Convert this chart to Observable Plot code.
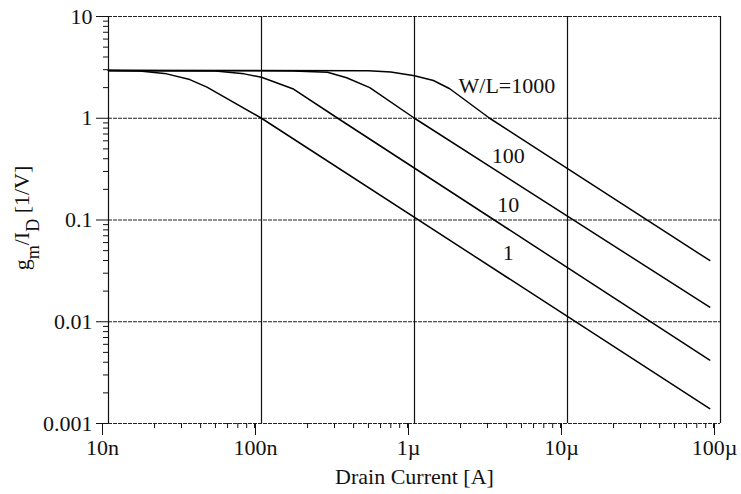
<!DOCTYPE html>
<html>
<head>
<meta charset="utf-8">
<script src="https://cdn.jsdelivr.net/npm/d3@7"></script>
<script src="https://cdn.jsdelivr.net/npm/@observablehq/plot@0.6"></script>
<style>
  html, body { margin: 0; padding: 0; background: #ffffff; }
</style>
</head>
<body>
<div id="chart"></div>
<script>
// Drain current [A] and gm/ID [1/V], one pair of arrays per W/L curve
const wl1_I    = [1e-8, 1.6e-8, 2.4e-8, 3.4e-8, 4.4e-8, 1e-7, 8.5e-5];
const wl1_g    = [2.95, 2.91, 2.73, 2.40, 2.02, 1.0, 0.0014];
const wl10_I   = [1e-8, 5e-8, 7.7e-8, 1.0e-7, 1.6e-7, 3.15e-7, 8.5e-5];
const wl10_g   = [2.95, 2.91, 2.73, 2.53, 1.95, 1.0, 0.0042];
const wl100_I  = [1e-8, 1.6e-7, 2.7e-7, 3.6e-7, 5.1e-7, 1e-6, 8.5e-5];
const wl100_g  = [2.95, 2.92, 2.83, 2.50, 2.0, 1.0, 0.0139];
const wl1000_I = [1e-8, 5e-7, 7e-7, 1e-6, 1.33e-6, 1.7e-6, 3.1e-6, 8.5e-5];
const wl1000_g = [2.95, 2.93, 2.85, 2.62, 2.35, 1.95, 1.0, 0.040];

// Curve labels and where they sit (data coordinates)
const topLabel   = "W/L=1000";
const topLabelI  = 1.94e-6;
const topLabelG  = 2.10;
const wlLabels   = ["100", "10", "1"];
const wlLabelI   = [4.1e-6, 4.1e-6, 4.1e-6];
const wlLabelG   = [0.43, 0.139, 0.047];

// Axis ticks and labels
const majorX = [1e-8, 1e-7, 1e-6, 1e-5, 1e-4];
const xTickLabels = ["10n", "100n", "1µ", "10µ", "100µ"];
const majorY = [1e-3, 1e-2, 1e-1, 1, 10];
const yTickLabels = ["0.001", "0.01", "0.1", "1", "10"];
const minorMult = [2, 3, 4, 5, 6, 7, 8, 9];

const xTitle = "Drain Current [A]";

// Build tables for the library
const curves = [
  {wl: "1", I: wl1_I, g: wl1_g},
  {wl: "10", I: wl10_I, g: wl10_g},
  {wl: "100", I: wl100_I, g: wl100_g},
  {wl: "1000", I: wl1000_I, g: wl1000_g}
];
const rows = curves.flatMap(c => c.I.map((I, i) => ({wl: c.wl, I, g: c.g[i]})));
const labelRows = wlLabels.map((t, i) => ({t, I: wlLabelI[i], g: wlLabelG[i]}));
const minorX = majorX.slice(0, -1).flatMap(d => minorMult.map(m => d * m));
const minorY = majorY.slice(0, -1).flatMap(d => minorMult.map(m => d * m));
const xLab = new Map(majorX.map((v, i) => [v, xTickLabels[i]]));
const yLab = new Map(majorY.map((v, i) => [v, yTickLabels[i]]));

const font = "Liberation Serif, Times New Roman, serif";

const svg = Plot.plot({
  width: 741,
  height: 494,
  marginLeft: 108,
  marginRight: 21,
  marginTop: 16,
  marginBottom: 71,
  style: {fontFamily: font, fontSize: "22px", background: "#ffffff", color: "#111"},
  x: {type: "log", domain: [1e-8, 1e-4]},
  y: {type: "log", domain: [1e-3, 10]},
  marks: [
    Plot.ruleY(majorY, {stroke: "#222", strokeWidth: 1.2, strokeDasharray: "4,1"}),
    Plot.ruleX(majorX, {stroke: "#111", strokeWidth: 1.2}),
    Plot.axisX(minorX, {anchor: "bottom", tickSize: 5, tickFormat: () => "", label: null, stroke: "#111"}),
    Plot.axisX(majorX, {anchor: "bottom", tickSize: 12, tickPadding: 4, dx: -6, tickFormat: d => xLab.get(d), label: null, fontSize: 22, fill: "#111", stroke: "#111"}),
    Plot.axisY(minorY, {anchor: "left", tickSize: 5, tickFormat: () => "", label: null, stroke: "#111"}),
    Plot.axisY(majorY, {anchor: "left", tickSize: 12, tickPadding: 4, tickFormat: d => yLab.get(d), label: null, fontSize: 22, fill: "#111", stroke: "#111"}),
    Plot.line(rows, {x: "I", y: "g", z: "wl", stroke: "#000", strokeWidth: 1.5, curve: "linear"}),
    Plot.text([topLabel], {x: () => topLabelI, y: () => topLabelG, text: d => d, textAnchor: "start", fontSize: 22, fill: "#111"}),
    Plot.text(labelRows, {x: "I", y: "g", text: "t", textAnchor: "middle", fontSize: 22, fill: "#111"}),
    Plot.text([xTitle], {frameAnchor: "bottom", lineAnchor: "middle", dy: 53, fontSize: 22, fill: "#111"})
  ]
});

// Y-axis title with subscripts
const yt = d3.select(svg).append("text")
  .attr("transform", "translate(29,218) rotate(-90)")
  .attr("text-anchor", "middle")
  .attr("font-family", font)
  .attr("font-size", 22)
  .attr("fill", "#111");
yt.append("tspan").text("g");
yt.append("tspan").attr("baseline-shift", "sub").attr("font-size", 18).text("m");
yt.append("tspan").text("/I");
yt.append("tspan").attr("baseline-shift", "sub").attr("font-size", 18).text("D");
yt.append("tspan").text(" [1/V]");

document.getElementById("chart").appendChild(svg);
</script>
</body>
</html>
